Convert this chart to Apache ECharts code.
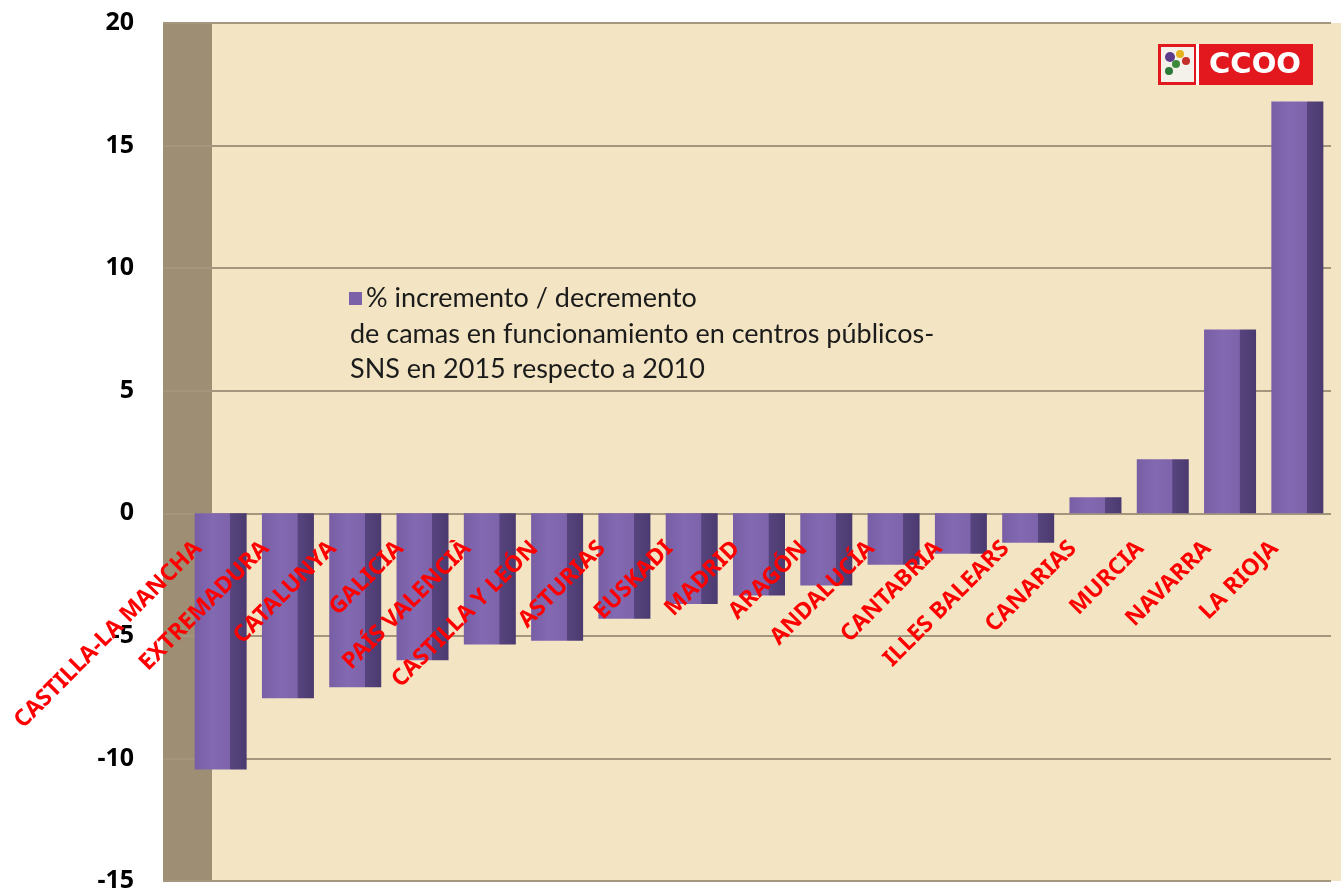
<!DOCTYPE html>
<html lang="es">
<head>
    <meta charset="UTF-8">
    <title>Camas en funcionamiento SNS 2015 vs 2010</title>
    <script src="https://cdn.jsdelivr.net/npm/echarts@6/dist/echarts.min.js"></script>
    <style>
        html, body { margin: 0; padding: 0; background: #ffffff; }
        #main { width: 1341px; height: 893px; }
    </style>
</head>
<body>
<div id="main"></div>
<script>
    // datos
    var comunidades = ['CASTILLA-LA MANCHA', 'EXTREMADURA', 'CATALUNYA', 'GALICIA', 'PAÍS VALENCIÀ',
        'CASTILLA Y LEÓN', 'ASTURIAS', 'EUSKADI', 'MADRID', 'ARAGÓN', 'ANDALUCÍA', 'CANTABRIA',
        'ILLES BALEARS', 'CANARIAS', 'MURCIA', 'NAVARRA', 'LA RIOJA'];
    var variacion = [-10.45, -7.55, -7.1, -6.0, -5.35, -5.2, -4.3, -3.7, -3.35, -2.95, -2.1, -1.65,
        -1.2, 0.65, 2.2, 7.5, 16.8];
    var leyenda = ['% incremento / decremento',
        'de camas en funcionamiento en centros públicos-',
        'SNS en 2015 respecto a 2010'];
    var yMin = -15, yMax = 20, yStep = 5;

    var myChart = echarts.init(document.getElementById('main'));
    var gridColor = '#a3967c';
    var gridTop = 23, gridBottom = 12, chartH = 893;
    // distancia del borde inferior de la rejilla a la linea del cero
    var zeroOffset = (chartH - gridTop - gridBottom) * (0 - yMin) / (yMax - yMin);

    var option = {
        animation: false,
        textStyle: { fontFamily: 'Lato' },
        title: {
            text: leyenda.slice(1).join('\n'),
            left: 350,
            top: 317,
            padding: 0,
            textStyle: { fontSize: 27, fontWeight: 'normal', color: '#1b1b1b', lineHeight: 35, fontFamily: 'Lato' }
        },
        legend: {
            left: 349,
            top: 285,
            padding: 0,
            itemWidth: 13,
            itemHeight: 13,
            icon: 'rect',
            itemGap: 4,
            data: [leyenda.join(' ')],
            formatter: function () { return leyenda[0]; },
            itemStyle: { color: '#7b62a8' },
            textStyle: { fontSize: 27, color: '#1b1b1b', fontFamily: 'Lato', padding: [0, 0, 0, -1] }
        },
        grid: { left: 187, right: 10, top: gridTop, bottom: gridBottom, containLabel: false, outerBoundsMode: 'none' },
        xAxis: {
            type: 'category',
            data: comunidades,
            z: 10,
            axisLine: { show: false, onZero: false },
            axisTick: { show: false },
            axisLabel: {
                interval: 0,
                rotate: 45,
                margin: 9 - zeroOffset,
                padding: [0, 32, 0, 0],
                color: '#ff0000',
                fontWeight: 'bold',
                fontSize: 23,
                fontFamily: 'Noto Sans'
            }
        },
        yAxis: {
            type: 'value',
            min: yMin,
            max: yMax,
            interval: yStep,
            axisLine: { show: false },
            axisTick: { show: true, length: 24, lineStyle: { color: gridColor, width: 2 } },
            splitLine: { lineStyle: { color: gridColor, width: 2 } },
            axisLabel: { margin: 53, color: '#000', fontWeight: 'bold', fontSize: 25, fontFamily: 'Noto Sans' }
        },
        graphic: [
            // pared lateral y fondo
            { type: 'rect', z: -10, shape: { x: 163, y: 23, width: 49, height: 858 }, style: { fill: '#9e8f74' } },
            { type: 'rect', z: -10, shape: { x: 212, y: 23, width: 1129, height: 858 }, style: { fill: '#f3e5c3' } },
            // logo
            {
                type: 'group', left: 1158, top: 44, z: 100,
                children: [
                    { type: 'rect', shape: { x: 0, y: 0, width: 155, height: 41 }, style: { fill: '#e3181f' } },
                    { type: 'rect', shape: { x: 3, y: 3, width: 33, height: 35 }, style: { fill: '#f4f0ea' } },
                    { type: 'circle', shape: { cx: 12, cy: 13, r: 5 }, style: { fill: '#5b3a8c' } },
                    { type: 'circle', shape: { cx: 22, cy: 10, r: 4 }, style: { fill: '#e6b21e' } },
                    { type: 'circle', shape: { cx: 28, cy: 17, r: 4 }, style: { fill: '#c4312b' } },
                    { type: 'circle', shape: { cx: 18, cy: 20, r: 4 }, style: { fill: '#3b8a3a' } },
                    { type: 'circle', shape: { cx: 11, cy: 27, r: 4 }, style: { fill: '#2c7a3a' } },
                    { type: 'rect', shape: { x: 38, y: 0, width: 3, height: 41 }, style: { fill: '#ffffff' } },
                    {
                        type: 'text', x: 97, y: 21,
                        style: { text: 'CCOO', fill: '#ffffff', font: 'bold 29px "DejaVu Sans"', align: 'center', verticalAlign: 'middle' }
                    }
                ]
            }
        ],
        series: [{
            name: leyenda.join(' '),
            type: 'bar',
            data: variacion,
            barWidth: 52,
            z: 2,
            itemStyle: {
                color: new echarts.graphic.LinearGradient(0, 0, 1, 0, [
                    { offset: 0, color: '#785ea5' },
                    { offset: 0.35, color: '#8369b1' },
                    { offset: 0.68, color: '#7d63aa' },
                    { offset: 0.69, color: '#57447f' },
                    { offset: 1, color: '#4b3a6f' }
                ])
            }
        }]
    };
    myChart.setOption(option);
</script>
</body>
</html>
